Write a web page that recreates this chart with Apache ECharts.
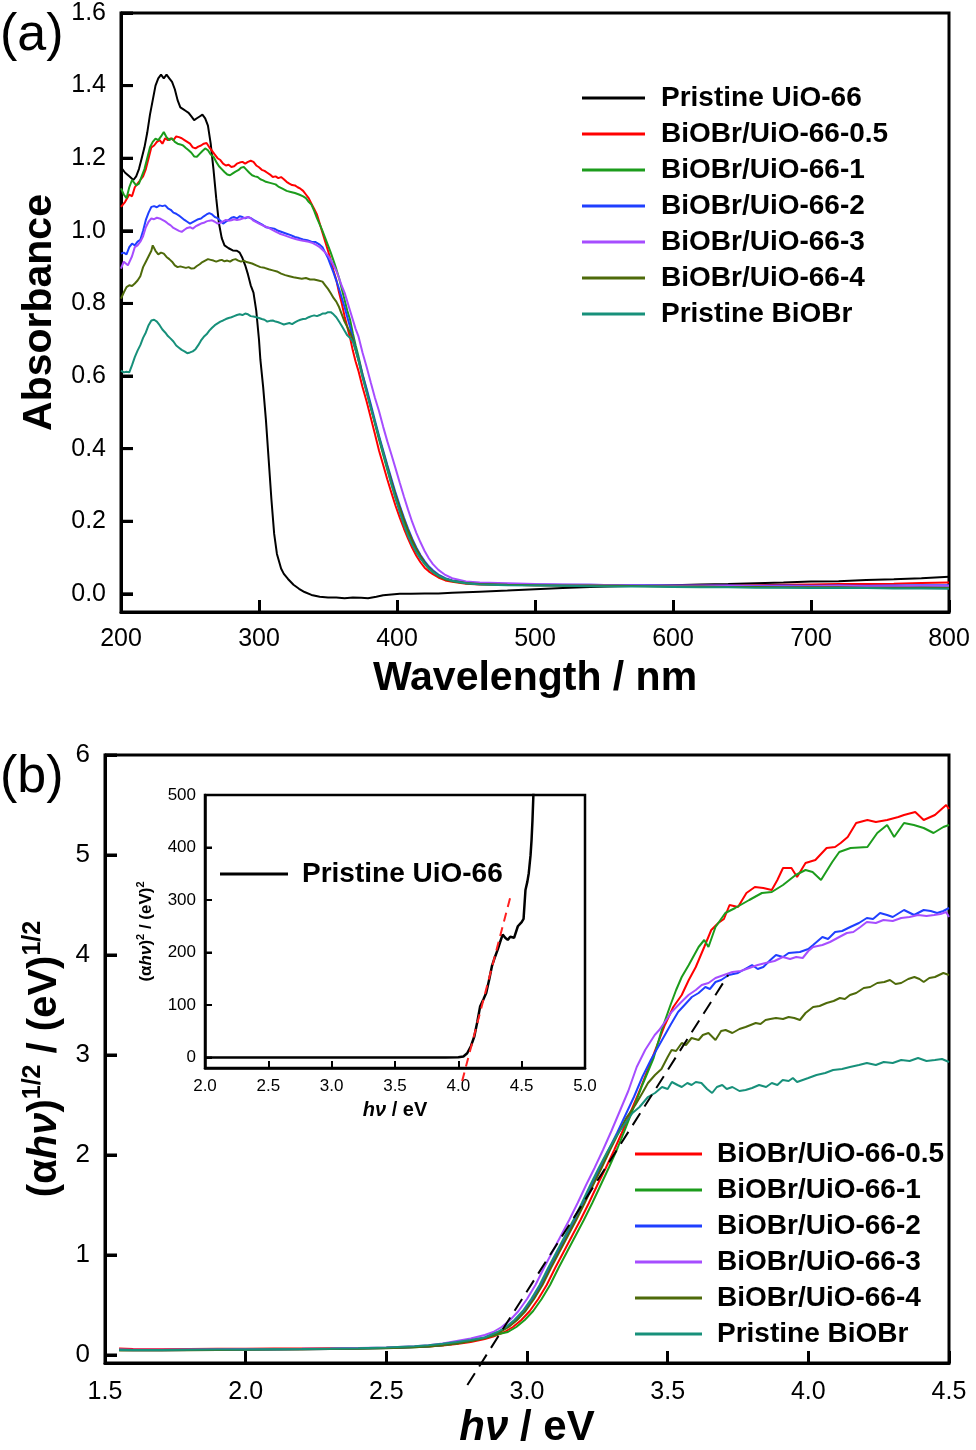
<!DOCTYPE html>
<html><head><meta charset="utf-8">
<script src="https://cdn.jsdelivr.net/npm/echarts@6.0.0/dist/echarts.min.js"></script>
<style>html,body{margin:0;padding:0;background:#fff}#c{width:976px;height:1450px}</style>
</head><body><div id="c"></div>
<script>
const FONT = 'Liberation Sans, Arial, sans-serif';

// ---------- Panel (a): wavelength (nm) vs absorbance ----------
const wlTicks = [200, 300, 400, 500, 600, 700, 800];
const absTicks = [0, 0.2, 0.4, 0.6, 0.8, 1.0, 1.2, 1.4, 1.6];

const uio66A = [[200,1.175],[203,1.16],[206,1.15],[209,1.14],[211,1.15],[213,1.17],[215,1.20],[217,1.23],[219,1.27],[221,1.32],[223,1.36],[225,1.40],[227,1.42],[229,1.43],[231,1.42],[233,1.43],[235,1.42],[237,1.41],[239,1.39],[241,1.36],[243,1.34],[245,1.335],[247,1.33],[249,1.325],[251,1.315],[253,1.305],[255,1.31],[257,1.315],[259,1.32],[261,1.31],[263,1.29],[265,1.24],[267,1.17],[269,1.09],[271,1.02],[273,0.98],[275,0.96],[278,0.952],[281,0.946],[284,0.945],[286,0.94],[288,0.925],[290,0.905],[292,0.88],[294,0.85],[296,0.83],[298,0.78],[300,0.70],[301,0.645],[303,0.57],[305,0.48],[307,0.37],[309,0.26],[311,0.165],[313,0.11],[316,0.07],[318,0.055],[321,0.041],[325,0.025],[329,0.014],[333,0.005],[338,-0.003],[344,-0.008],[350,-0.01],[356,-0.01],[362,-0.012],[368,-0.01],[374,-0.011],[379,-0.012],[385,-0.008],[390,-0.004],[396,-0.002],[402,0.0],[410,0.0],[420,0.001],[430,0.001],[440,0.003],[460,0.006],[480,0.009],[500,0.013],[520,0.016],[540,0.019],[560,0.021],[580,0.022],[600,0.024],[620,0.026],[640,0.027],[660,0.029],[680,0.031],[700,0.034],[720,0.035],[740,0.038],[760,0.040],[780,0.043],[800,0.047]];

const bu05A = [[200,1.066],[203,1.08],[206,1.10],[208,1.095],[210,1.12],[212,1.13],[214,1.14],[216,1.15],[218,1.17],[220,1.20],[222,1.23],[224,1.235],[226,1.245],[228,1.25],[230,1.24],[232,1.255],[234,1.25],[236,1.255],[238,1.25],[240,1.26],[242,1.258],[244,1.255],[246,1.25],[248,1.245],[250,1.24],[252,1.23],[254,1.227],[256,1.232],[258,1.235],[260,1.24],[262,1.242],[264,1.23],[266,1.22],[268,1.21],[270,1.20],[272,1.195],[274,1.185],[276,1.18],[278,1.182],[280,1.176],[282,1.178],[284,1.185],[286,1.188],[288,1.19],[290,1.185],[292,1.19],[294,1.193],[296,1.19],[298,1.18],[300,1.175],[302,1.168],[304,1.165],[306,1.16],[308,1.155],[310,1.148],[312,1.15],[314,1.145],[316,1.148],[318,1.142],[320,1.135],[322,1.13],[324,1.126],[326,1.125],[328,1.12],[330,1.116],[332,1.11],[334,1.10],[336,1.09],[338,1.075],[340,1.06],[342,1.045],[344,1.02],[346,0.995],[348,0.97],[350,0.945],[352,0.92],[354,0.89],[356,0.865],[358,0.83],[360,0.80],[362,0.765],[364,0.735],[366,0.705],[368,0.67],[370,0.64],[372,0.615],[375,0.57],[378,0.53],[381,0.485],[384,0.44],[387,0.394],[390,0.355],[393,0.315],[396,0.278],[399,0.242],[402,0.21],[405,0.18],[408,0.152],[411,0.127],[414,0.105],[417,0.087],[420,0.072],[423,0.062],[426,0.054],[430,0.045],[435,0.037],[440,0.033],[450,0.028],[460,0.026],[480,0.025],[500,0.024],[520,0.024],[540,0.023],[560,0.023],[580,0.022],[600,0.022],[620,0.023],[640,0.023],[660,0.024],[680,0.025],[700,0.026],[720,0.027],[740,0.027],[760,0.028],[780,0.03],[800,0.031]];

const bu1A = [[200,1.117],[202,1.10],[204,1.09],[206,1.12],[208,1.14],[209,1.145],[211,1.125],[213,1.13],[215,1.15],[217,1.17],[219,1.20],[221,1.23],[223,1.245],[225,1.254],[227,1.25],[229,1.26],[231,1.272],[233,1.258],[235,1.25],[237,1.255],[239,1.245],[241,1.24],[243,1.238],[245,1.235],[247,1.228],[249,1.222],[251,1.215],[253,1.205],[255,1.204],[257,1.212],[259,1.22],[261,1.227],[263,1.222],[265,1.21],[267,1.204],[269,1.19],[271,1.178],[273,1.17],[275,1.162],[277,1.155],[279,1.153],[281,1.158],[283,1.163],[285,1.167],[287,1.174],[289,1.176],[291,1.168],[293,1.16],[295,1.153],[297,1.15],[299,1.148],[301,1.142],[303,1.139],[305,1.135],[308,1.132],[310,1.13],[312,1.128],[314,1.122],[317,1.116],[320,1.11],[323,1.107],[326,1.104],[329,1.10],[332,1.095],[334,1.09],[336,1.08],[338,1.072],[340,1.055],[342,1.035],[344,1.018],[346,1.0],[348,0.98],[350,0.96],[352,0.94],[354,0.918],[356,0.895],[358,0.87],[360,0.84],[362,0.81],[364,0.78],[366,0.755],[368,0.718],[370,0.685],[372,0.655],[375,0.605],[378,0.56],[381,0.515],[384,0.47],[387,0.425],[390,0.383],[393,0.342],[396,0.303],[399,0.265],[402,0.232],[405,0.2],[408,0.17],[411,0.143],[414,0.12],[417,0.1],[420,0.083],[423,0.07],[426,0.06],[430,0.049],[435,0.04],[440,0.035],[450,0.029],[460,0.027],[480,0.026],[500,0.025],[520,0.024],[540,0.024],[560,0.023],[580,0.022],[600,0.021],[620,0.021],[640,0.02],[660,0.02],[680,0.02],[700,0.019],[720,0.019],[740,0.019],[760,0.018],[780,0.019],[800,0.018]];

const bu2A = [[200,0.937],[202,0.94],[204,0.935],[206,0.955],[208,0.965],[210,0.96],[212,0.97],[214,0.975],[216,1.0],[218,1.03],[220,1.05],[222,1.066],[224,1.068],[226,1.065],[228,1.07],[230,1.068],[232,1.07],[234,1.062],[236,1.058],[238,1.05],[240,1.047],[242,1.042],[244,1.036],[246,1.03],[248,1.025],[250,1.02],[252,1.024],[254,1.028],[256,1.032],[258,1.034],[260,1.04],[262,1.045],[264,1.049],[266,1.045],[268,1.038],[270,1.035],[272,1.028],[274,1.02],[276,1.025],[278,1.03],[280,1.036],[282,1.038],[284,1.034],[286,1.04],[288,1.038],[290,1.034],[292,1.038],[294,1.035],[296,1.03],[298,1.026],[300,1.022],[302,1.018],[305,1.01],[308,1.008],[311,1.006],[314,1.0],[317,0.996],[320,0.992],[323,0.988],[326,0.983],[329,0.98],[332,0.976],[335,0.974],[338,0.97],[341,0.969],[344,0.962],[346,0.955],[348,0.94],[350,0.925],[352,0.905],[354,0.885],[356,0.863],[358,0.84],[360,0.815],[362,0.79],[364,0.762],[366,0.735],[368,0.705],[370,0.675],[372,0.648],[375,0.605],[378,0.565],[381,0.522],[384,0.478],[387,0.435],[390,0.395],[393,0.355],[396,0.316],[399,0.278],[402,0.243],[405,0.21],[408,0.18],[411,0.152],[414,0.128],[417,0.107],[420,0.09],[423,0.076],[426,0.065],[430,0.053],[435,0.043],[440,0.037],[450,0.031],[460,0.028],[480,0.027],[500,0.026],[520,0.025],[540,0.025],[560,0.024],[580,0.024],[600,0.023],[620,0.023],[640,0.023],[660,0.022],[680,0.023],[700,0.022],[720,0.023],[740,0.022],[760,0.023],[780,0.024],[800,0.024]];

const bu3A = [[200,0.896],[202,0.915],[203,0.92],[205,0.905],[206,0.90],[208,0.93],[210,0.955],[212,0.96],[214,0.97],[216,0.985],[218,1.01],[220,1.025],[222,1.034],[224,1.032],[226,1.036],[228,1.034],[230,1.03],[232,1.026],[234,1.02],[236,1.015],[238,1.008],[240,1.004],[242,1.0],[244,0.997],[246,1.003],[248,1.008],[250,1.01],[252,1.006],[254,1.012],[256,1.016],[258,1.02],[260,1.022],[262,1.026],[264,1.028],[266,1.029],[268,1.025],[270,1.02],[272,1.022],[274,1.026],[276,1.03],[278,1.028],[280,1.029],[282,1.032],[284,1.03],[286,1.031],[288,1.034],[290,1.036],[292,1.038],[294,1.035],[296,1.028],[298,1.024],[300,1.02],[303,1.014],[306,1.01],[309,1.004],[312,0.998],[315,0.992],[318,0.988],[321,0.984],[324,0.98],[327,0.977],[330,0.974],[333,0.972],[336,0.97],[339,0.966],[342,0.96],[344,0.955],[346,0.948],[348,0.94],[350,0.932],[352,0.92],[354,0.905],[356,0.89],[358,0.87],[360,0.848],[362,0.83],[364,0.805],[366,0.78],[368,0.755],[370,0.73],[372,0.71],[375,0.665],[378,0.625],[381,0.582],[384,0.54],[387,0.503],[390,0.46],[393,0.42],[396,0.383],[399,0.345],[402,0.306],[405,0.268],[408,0.232],[411,0.198],[414,0.168],[417,0.142],[420,0.118],[423,0.098],[426,0.082],[430,0.066],[435,0.052],[440,0.043],[450,0.034],[460,0.031],[480,0.029],[500,0.027],[520,0.026],[540,0.025],[560,0.024],[580,0.023],[600,0.022],[620,0.022],[640,0.022],[660,0.021],[680,0.021],[700,0.021],[720,0.022],[740,0.021],[760,0.021],[780,0.022],[800,0.022]];

const bu4A = [[200,0.813],[202,0.83],[204,0.845],[206,0.85],[208,0.848],[210,0.855],[212,0.863],[214,0.875],[216,0.9],[218,0.915],[220,0.93],[222,0.945],[223,0.96],[225,0.945],[227,0.935],[229,0.94],[231,0.937],[233,0.928],[235,0.922],[237,0.915],[239,0.905],[241,0.9],[243,0.902],[245,0.9],[247,0.898],[249,0.9],[251,0.896],[253,0.897],[255,0.903],[257,0.908],[259,0.914],[261,0.918],[263,0.922],[265,0.92],[267,0.918],[269,0.915],[271,0.918],[273,0.92],[275,0.916],[277,0.918],[279,0.915],[281,0.92],[283,0.922],[285,0.918],[287,0.915],[289,0.918],[291,0.914],[293,0.912],[295,0.91],[298,0.905],[301,0.9],[304,0.898],[307,0.894],[310,0.891],[313,0.888],[316,0.882],[319,0.878],[322,0.875],[325,0.872],[328,0.87],[331,0.868],[334,0.87],[337,0.866],[340,0.866],[343,0.863],[346,0.86],[348,0.85],[350,0.84],[352,0.828],[354,0.815],[356,0.805],[358,0.79],[360,0.77],[362,0.75],[364,0.735],[366,0.72],[368,0.7],[370,0.672],[372,0.645],[375,0.6],[378,0.558],[381,0.515],[384,0.472],[387,0.43],[390,0.39],[393,0.35],[396,0.31],[399,0.272],[402,0.238],[405,0.205],[408,0.175],[411,0.148],[414,0.124],[417,0.104],[420,0.087],[423,0.073],[426,0.062],[430,0.051],[435,0.041],[440,0.036],[450,0.03],[460,0.027],[480,0.025],[500,0.024],[520,0.023],[540,0.023],[560,0.022],[580,0.021],[600,0.02],[620,0.02],[640,0.019],[660,0.019],[680,0.018],[700,0.018],[720,0.018],[740,0.017],[760,0.017],[780,0.017],[800,0.016]];

const biobrA = [[200,0.615],[202,0.61],[204,0.612],[206,0.61],[208,0.63],[210,0.652],[212,0.67],[214,0.685],[216,0.705],[218,0.72],[220,0.74],[222,0.753],[224,0.755],[226,0.75],[228,0.74],[230,0.728],[232,0.72],[234,0.71],[236,0.703],[238,0.695],[240,0.684],[242,0.678],[244,0.672],[246,0.668],[248,0.663],[250,0.665],[252,0.668],[254,0.674],[256,0.685],[258,0.698],[260,0.708],[262,0.715],[264,0.725],[266,0.733],[268,0.74],[270,0.745],[272,0.75],[274,0.753],[276,0.757],[278,0.76],[280,0.762],[282,0.765],[284,0.768],[286,0.77],[288,0.768],[290,0.772],[292,0.77],[294,0.765],[296,0.764],[298,0.762],[300,0.76],[302,0.757],[304,0.755],[306,0.75],[308,0.752],[310,0.753],[312,0.75],[314,0.748],[316,0.745],[318,0.742],[320,0.744],[322,0.746],[324,0.743],[326,0.748],[328,0.752],[330,0.755],[332,0.757],[334,0.758],[336,0.762],[338,0.765],[340,0.767],[342,0.765],[344,0.768],[346,0.772],[348,0.772],[350,0.776],[352,0.776],[354,0.77],[356,0.762],[358,0.75],[360,0.738],[362,0.725],[364,0.712],[366,0.705],[368,0.695],[370,0.672],[372,0.645],[375,0.597],[378,0.555],[381,0.513],[384,0.472],[387,0.43],[390,0.388],[393,0.345],[396,0.302],[399,0.262],[402,0.225],[405,0.19],[408,0.16],[411,0.135],[414,0.115],[417,0.097],[420,0.083],[423,0.07],[426,0.06],[430,0.05],[435,0.042],[440,0.036],[450,0.029],[460,0.026],[480,0.024],[500,0.023],[520,0.022],[540,0.021],[560,0.02],[580,0.02],[600,0.019],[620,0.018],[640,0.018],[660,0.017],[680,0.017],[700,0.016],[720,0.016],[740,0.016],[760,0.015],[780,0.015],[800,0.014]];

// ---------- Panel (b): photon energy (eV) vs (αhν)^1/2 ----------
const eTicks = [1.5, 2.0, 2.5, 3.0, 3.5, 4.0, 4.5];
const taucTicks = [0, 1, 2, 3, 4, 5, 6];

const bu05B = [[1.55,0.065],[1.6,0.06],[1.7,0.058],[1.8,0.06],[1.9,0.062],[2.0,0.063],[2.1,0.065],[2.2,0.066],[2.3,0.068],[2.4,0.07],[2.5,0.073],[2.6,0.08],[2.65,0.085],[2.7,0.095],[2.75,0.11],[2.8,0.13],[2.85,0.16],[2.88,0.185],[2.92,0.23],[2.95,0.28],[2.98,0.35],[3.01,0.44],[3.04,0.56],[3.07,0.7],[3.10,0.87],[3.13,1.03],[3.16,1.19],[3.19,1.35],[3.22,1.52],[3.25,1.7],[3.28,1.87],[3.31,2.05],[3.34,2.24],[3.37,2.44],[3.40,2.64],[3.43,2.86],[3.46,3.08],[3.49,3.3],[3.52,3.48],[3.55,3.6],[3.575,3.75],[3.6,3.88],[3.63,4.08],[3.655,4.25],[3.68,4.32],[3.7,4.36],[3.72,4.50],[3.75,4.48],[3.78,4.62],[3.81,4.68],[3.84,4.67],[3.87,4.65],[3.89,4.75],[3.91,4.87],[3.94,4.87],[3.96,4.78],[3.99,4.92],[4.025,4.95],[4.065,5.07],[4.095,5.08],[4.115,5.12],[4.14,5.18],[4.17,5.32],[4.21,5.35],[4.24,5.33],[4.28,5.35],[4.32,5.38],[4.34,5.40],[4.38,5.43],[4.41,5.35],[4.45,5.40],[4.49,5.50],[4.5,5.46]];

const bu1B = [[1.55,0.055],[1.6,0.05],[1.7,0.05],[1.8,0.052],[1.9,0.054],[2.0,0.056],[2.1,0.058],[2.2,0.06],[2.3,0.063],[2.4,0.066],[2.5,0.07],[2.6,0.078],[2.65,0.085],[2.7,0.097],[2.75,0.115],[2.8,0.14],[2.85,0.17],[2.9,0.21],[2.932,0.23],[2.962,0.28],[2.992,0.35],[3.022,0.44],[3.052,0.56],[3.082,0.7],[3.112,0.87],[3.142,1.03],[3.172,1.19],[3.202,1.35],[3.232,1.52],[3.262,1.7],[3.292,1.88],[3.322,2.07],[3.352,2.28],[3.38,2.48],[3.41,2.7],[3.45,2.97],[3.48,3.26],[3.51,3.5],[3.53,3.65],[3.55,3.78],[3.575,3.9],[3.61,4.08],[3.63,4.15],[3.645,4.08],[3.67,4.28],[3.705,4.42],[3.74,4.47],[3.79,4.55],[3.835,4.62],[3.87,4.63],[3.91,4.70],[3.955,4.80],[3.99,4.85],[4.015,4.83],[4.045,4.75],[4.085,4.93],[4.11,5.03],[4.15,5.07],[4.21,5.08],[4.245,5.22],[4.28,5.30],[4.305,5.18],[4.34,5.32],[4.375,5.30],[4.41,5.27],[4.445,5.22],[4.48,5.28],[4.5,5.30]];

const bu2B = [[1.55,0.05],[1.6,0.048],[1.7,0.048],[1.8,0.05],[1.9,0.052],[2.0,0.054],[2.1,0.056],[2.2,0.058],[2.3,0.061],[2.4,0.065],[2.5,0.07],[2.6,0.08],[2.65,0.088],[2.7,0.1],[2.75,0.12],[2.8,0.145],[2.85,0.175],[2.9,0.23],[2.93,0.28],[2.96,0.35],[2.99,0.44],[3.02,0.56],[3.05,0.7],[3.08,0.87],[3.11,1.03],[3.14,1.19],[3.17,1.35],[3.20,1.52],[3.23,1.7],[3.26,1.87],[3.29,2.05],[3.32,2.22],[3.35,2.40],[3.38,2.58],[3.41,2.78],[3.44,2.95],[3.47,3.1],[3.49,3.2],[3.51,3.3],[3.537,3.43],[3.56,3.5],[3.586,3.58],[3.61,3.62],[3.634,3.68],[3.65,3.66],[3.67,3.73],[3.69,3.75],[3.717,3.80],[3.75,3.82],[3.775,3.86],[3.80,3.90],[3.82,3.86],[3.84,3.88],[3.865,3.95],[3.885,4.00],[3.91,3.98],[3.93,4.02],[3.97,4.03],[4.0,4.06],[4.017,4.10],[4.05,4.18],[4.07,4.16],[4.095,4.23],[4.12,4.24],[4.149,4.28],[4.18,4.32],[4.208,4.37],[4.23,4.36],[4.255,4.42],[4.28,4.40],[4.30,4.38],[4.34,4.45],[4.376,4.40],[4.41,4.45],[4.435,4.44],[4.458,4.42],[4.48,4.44],[4.5,4.47]];

const bu3B = [[1.55,0.055],[1.6,0.052],[1.7,0.052],[1.8,0.054],[1.9,0.056],[2.0,0.058],[2.1,0.06],[2.2,0.062],[2.3,0.065],[2.4,0.07],[2.5,0.076],[2.6,0.088],[2.65,0.098],[2.7,0.115],[2.75,0.14],[2.8,0.165],[2.85,0.2],[2.88,0.23],[2.91,0.28],[2.94,0.35],[2.97,0.44],[3.0,0.56],[3.03,0.7],[3.06,0.87],[3.09,1.03],[3.12,1.19],[3.15,1.35],[3.18,1.52],[3.21,1.7],[3.24,1.87],[3.27,2.05],[3.30,2.24],[3.33,2.44],[3.36,2.64],[3.39,2.88],[3.42,3.05],[3.454,3.2],[3.47,3.25],[3.49,3.33],[3.514,3.43],[3.545,3.52],[3.574,3.60],[3.6,3.65],[3.621,3.70],[3.645,3.72],[3.67,3.77],[3.7,3.8],[3.73,3.83],[3.76,3.84],[3.79,3.87],[3.82,3.9],[3.848,3.92],[3.88,3.94],[3.909,3.98],[3.935,3.96],[3.957,3.98],[3.98,3.97],[4.0,4.04],[4.017,4.08],[4.05,4.1],[4.077,4.13],[4.11,4.18],[4.137,4.22],[4.16,4.23],[4.185,4.28],[4.208,4.33],[4.24,4.32],[4.267,4.35],[4.3,4.34],[4.33,4.37],[4.36,4.38],[4.39,4.40],[4.42,4.39],[4.447,4.40],[4.47,4.41],[4.49,4.43],[4.5,4.38]];

const bu4B = [[1.55,0.045],[1.6,0.045],[1.7,0.046],[1.8,0.048],[1.9,0.05],[2.0,0.052],[2.1,0.054],[2.2,0.056],[2.3,0.059],[2.4,0.063],[2.5,0.068],[2.6,0.077],[2.65,0.085],[2.7,0.097],[2.75,0.115],[2.8,0.14],[2.85,0.17],[2.905,0.23],[2.935,0.28],[2.965,0.35],[2.995,0.44],[3.025,0.56],[3.055,0.7],[3.085,0.87],[3.115,1.03],[3.145,1.19],[3.175,1.35],[3.205,1.52],[3.235,1.7],[3.265,1.87],[3.295,2.05],[3.325,2.22],[3.355,2.38],[3.385,2.5],[3.41,2.62],[3.43,2.72],[3.455,2.8],[3.478,2.86],[3.5,2.98],[3.514,3.05],[3.53,3.04],[3.55,3.12],[3.565,3.1],[3.585,3.17],[3.61,3.15],[3.625,3.2],[3.645,3.22],[3.67,3.15],[3.69,3.24],[3.706,3.25],[3.73,3.22],[3.755,3.26],[3.777,3.28],[3.795,3.3],[3.813,3.32],[3.83,3.31],[3.848,3.35],[3.865,3.36],[3.885,3.37],[3.91,3.36],[3.93,3.38],[3.95,3.37],[3.97,3.35],[3.99,3.42],[4.017,3.48],[4.04,3.49],[4.065,3.52],[4.09,3.54],[4.112,3.57],[4.13,3.56],[4.148,3.6],[4.17,3.62],[4.197,3.67],[4.22,3.68],[4.245,3.72],[4.27,3.73],[4.29,3.75],[4.31,3.71],[4.33,3.72],[4.355,3.76],[4.377,3.78],[4.395,3.76],[4.41,3.73],[4.43,3.77],[4.45,3.78],[4.48,3.82],[4.5,3.80]];

const biobrB = [[1.55,0.05],[1.6,0.05],[1.7,0.05],[1.8,0.052],[1.9,0.054],[2.0,0.056],[2.1,0.058],[2.2,0.06],[2.3,0.063],[2.4,0.068],[2.5,0.075],[2.6,0.088],[2.65,0.098],[2.7,0.112],[2.75,0.13],[2.8,0.15],[2.85,0.175],[2.895,0.23],[2.925,0.28],[2.955,0.35],[2.985,0.44],[3.015,0.56],[3.045,0.7],[3.075,0.87],[3.105,1.03],[3.135,1.19],[3.165,1.35],[3.195,1.52],[3.225,1.7],[3.255,1.87],[3.285,2.03],[3.315,2.18],[3.35,2.32],[3.375,2.42],[3.4,2.48],[3.43,2.58],[3.455,2.62],[3.48,2.68],[3.5,2.66],[3.515,2.73],[3.535,2.7],[3.55,2.68],[3.57,2.72],[3.585,2.70],[3.6,2.73],[3.62,2.72],[3.64,2.66],[3.658,2.62],[3.675,2.68],[3.694,2.70],[3.71,2.66],[3.73,2.68],[3.755,2.64],[3.777,2.65],[3.8,2.67],[3.825,2.70],[3.85,2.68],[3.87,2.72],[3.89,2.70],[3.909,2.75],[3.93,2.74],[3.945,2.77],[3.96,2.73],[3.98,2.75],[4.0,2.77],[4.029,2.80],[4.06,2.82],[4.088,2.85],[4.12,2.86],[4.148,2.88],[4.18,2.90],[4.208,2.92],[4.24,2.9],[4.268,2.93],[4.3,2.92],[4.33,2.95],[4.36,2.94],[4.39,2.97],[4.42,2.94],[4.45,2.95],[4.475,2.96],[4.5,2.93]];

const fitB = [[2.788,-0.30],[3.715,3.80]];

// ---------- Inset: (αhν)^2 of pristine UiO-66 ----------
const insetETicks = [2.0, 2.5, 3.0, 3.5, 4.0, 4.5, 5.0];
const insetYTicks = [0, 100, 200, 300, 400, 500];
const uio66Inset = [[2.0,0],[2.5,0],[3.0,0],[3.5,0],[3.9,0],[4.0,0.5],[4.04,2],[4.07,8],[4.1,22],[4.126,40],[4.15,68],[4.172,97],[4.2,112],[4.22,123],[4.245,150],[4.265,174],[4.29,192],[4.31,205],[4.33,220],[4.35,234],[4.37,228],[4.39,224],[4.41,230],[4.44,228],[4.47,250],[4.5,258],[4.515,264],[4.53,319],[4.545,335],[4.556,351],[4.57,385],[4.578,414],[4.585,450],[4.593,503],[4.6,560]];
const fitInset = [[4.03,-45],[4.41,305]];

const namesA = ['Pristine UiO-66','BiOBr/UiO-66-0.5','BiOBr/UiO-66-1','BiOBr/UiO-66-2','BiOBr/UiO-66-3','BiOBr/UiO-66-4','Pristine BiOBr'];
const namesB = namesA.slice(1);
const colorsA = ['#000000','#ff0000','#1c9c1c','#1f3fff','#a64dff','#4e6a0a','#17907a'];

const dataA = [uio66A, bu05A, bu1A, bu2A, bu3A, bu4A, biobrA];
const dataB = [bu05B, bu1B, bu2B, bu3B, bu4B, biobrB];

const chart = echarts.init(document.getElementById('c'), null, {renderer:'canvas'});

const txt = (size, extra) => Object.assign({fontFamily: FONT, fontSize: size, color: '#000'}, extra || {});
const axLine = w => ({show: true, onZero: false, lineStyle: {color: '#000', width: w}});

const series = [];
dataA.forEach((d, i) => series.push({
  name: namesA[i], type: 'line', xAxisIndex: 0, yAxisIndex: 0, data: d,
  symbol: 'none', lineStyle: {color: colorsA[i], width: 2}, itemStyle: {color: colorsA[i]}, z: 3 + i
}));
dataB.forEach((d, i) => series.push({
  name: namesB[i], type: 'line', xAxisIndex: 1, yAxisIndex: 1, data: d,
  symbol: 'none', lineStyle: {color: colorsA[i + 1], width: 2}, itemStyle: {color: colorsA[i + 1]}, z: 3 + i
}));
series.push({name: 'fitB', type: 'line', xAxisIndex: 1, yAxisIndex: 1, data: fitB, symbol: 'none', clip: false,
  lineStyle: {color: '#000', width: 2, type: [14, 8]}, z: 20});
series.push({name: 'Pristine UiO-66', type: 'line', xAxisIndex: 2, yAxisIndex: 2, data: uio66Inset, symbol: 'none',
  lineStyle: {color: '#000', width: 2.5}, itemStyle: {color: '#000'}, z: 30});
series.push({name: 'fitInset', type: 'line', xAxisIndex: 2, yAxisIndex: 2, data: fitInset, symbol: 'none', clip: false,
  lineStyle: {color: '#ff2020', width: 2, type: [9, 6]}, z: 31});

const legendBase = {orient: 'vertical', icon: 'rect', itemHeight: 3, itemGap: 8};

const baseGraphic = [
  {type: 'text', left: 0, top: 10, style: {text: '(a)', font: '52px ' + FONT, fill: '#000'}},
  {type: 'text', left: 0, top: 752, style: {text: '(b)', font: '52px ' + FONT, fill: '#000'}}
];

const option = {
  animation: false,
  backgroundColor: '#fff',
  grid: [
    {left: 121, top: 13, width: 828, height: 599, show: true, borderColor: '#000', borderWidth: 3},
    {left: 105, top: 755, width: 844, height: 608, show: true, borderColor: '#000', borderWidth: 3},
    {left: 205, top: 795, width: 380, height: 273, show: true, borderColor: '#000', borderWidth: 2.5, backgroundColor: '#fff', z: 10}
  ],
  xAxis: [
    {gridIndex: 0, type: 'value', min: 200, max: 800, interval: 100,
      axisLine: axLine(3), splitLine: {show: false},
      axisTick: {show: true, inside: true, length: 12, lineStyle: {width: 3, color: '#000'}},
      axisLabel: Object.assign(txt(25), {margin: 15, customValues: wlTicks}),
      name: 'Wavelength / nm', nameLocation: 'middle', nameGap: 46,
      nameTextStyle: txt(41, {fontWeight: 'bold'})},
    {gridIndex: 1, type: 'value', min: 1.5, max: 4.5, interval: 0.5,
      axisLine: axLine(3), splitLine: {show: false},
      axisTick: {show: true, inside: true, length: 12, lineStyle: {width: 3, color: '#000'}},
      axisLabel: Object.assign(txt(25), {margin: 17, customValues: eTicks, formatter: v => v.toFixed(1)}),
      name: '{i|h\u03bd}{n| / eV}', nameLocation: 'middle', nameGap: 44,
      nameTextStyle: {rich: {
        i: txt(42, {fontWeight: 'bold', fontStyle: 'italic'}),
        n: txt(42, {fontWeight: 'bold'})}}},
    {gridIndex: 2, type: 'value', min: 2, max: 5, interval: 0.5, z: 12,
      axisLine: axLine(2.5), splitLine: {show: false},
      axisTick: {show: true, inside: true, length: 7, lineStyle: {width: 2, color: '#000'}},
      axisLabel: Object.assign(txt(17), {margin: 10, customValues: insetETicks, formatter: v => v.toFixed(1)}),
      name: '{i|h\u03bd}{n| / eV}', nameLocation: 'middle', nameGap: 32,
      nameTextStyle: {rich: {
        i: txt(20, {fontWeight: 'bold', fontStyle: 'italic'}),
        n: txt(20, {fontWeight: 'bold'})}}}
  ],
  yAxis: [
    {gridIndex: 0, type: 'value', min: -0.05, max: 1.6, position: 'left',
      axisLine: axLine(3), splitLine: {show: false},
      axisTick: {show: true, inside: true, length: 12, customValues: absTicks, lineStyle: {width: 3, color: '#000'}},
      axisLabel: Object.assign(txt(25), {margin: 15, customValues: absTicks, formatter: v => v.toFixed(1)}),
      name: 'Absorbance', nameLocation: 'middle', nameGap: 56,
      nameTextStyle: txt(41, {fontWeight: 'bold'})},
    {gridIndex: 1, type: 'value', min: -0.08, max: 6, position: 'left',
      axisLine: axLine(3), splitLine: {show: false},
      axisTick: {show: true, inside: true, length: 12, customValues: taucTicks, lineStyle: {width: 3, color: '#000'}},
      axisLabel: Object.assign(txt(26), {margin: 15, customValues: taucTicks}),
      name: '{n|(\u03b1}{i|h\u03bd}{n|)}{s|1/2}{n| / (eV)}{s|1/2}', nameLocation: 'middle', nameGap: 36,
      nameTextStyle: {rich: {
        n: txt(40, {fontWeight: 'bold', lineHeight: 48}),
        i: txt(40, {fontWeight: 'bold', fontStyle: 'italic', lineHeight: 48}),
        s: txt(25, {fontWeight: 'bold', lineHeight: 48, verticalAlign: 'top'})}}},
    {gridIndex: 2, type: 'value', min: -20, max: 500, position: 'left', z: 12,
      axisLine: axLine(2.5), splitLine: {show: false},
      axisTick: {show: true, inside: true, length: 7, customValues: insetYTicks, lineStyle: {width: 2, color: '#000'}},
      axisLabel: Object.assign(txt(17), {margin: 9, customValues: insetYTicks}),
      name: '{n|(\u03b1}{i|h\u03bd}{n|)}{s|2}{n| / (eV)}{s|2}', nameLocation: 'middle', nameGap: 48,
      nameTextStyle: {rich: {
        n: txt(17, {fontWeight: 'bold', lineHeight: 22}),
        i: txt(17, {fontWeight: 'bold', fontStyle: 'italic', lineHeight: 22}),
        s: txt(11, {fontWeight: 'bold', lineHeight: 22, verticalAlign: 'top'})}}}
  ],
  legend: [
    Object.assign({}, legendBase, {data: namesA, left: 577, top: 79, itemWidth: 63,
      textStyle: txt(28, {fontWeight: 'bold', lineHeight: 28, padding: [0, 0, 0, 11]})}),
    Object.assign({}, legendBase, {data: namesB, left: 630, top: 1135, itemWidth: 67,
      textStyle: txt(28, {fontWeight: 'bold', lineHeight: 28, padding: [0, 0, 0, 10]})}),
    Object.assign({}, legendBase, {data: ['Pristine UiO-66'], left: 215, top: 855, itemWidth: 68, z: 40,
      textStyle: txt(28, {fontWeight: 'bold', lineHeight: 28, padding: [0, 0, 0, 9]})})
  ],
  graphic: baseGraphic,
  series: series
};
chart.setOption(option);

// Inward y-axis tick marks, positioned through each grid's own scales.
const tickSpecs = [
  {grid: 0, xAt: 200, ticks: absTicks, len: 12, w: 3},
  {grid: 1, xAt: 1.5, ticks: taucTicks, len: 12, w: 3},
  {grid: 2, xAt: 2.0, ticks: insetYTicks, len: 7, w: 2}
];
const tickEls = [];
tickSpecs.forEach(s => s.ticks.forEach(v => {
  const p = chart.convertToPixel({gridIndex: s.grid}, [s.xAt, v]);
  if (!p || isNaN(p[0]) || isNaN(p[1])) return;
  tickEls.push({type: 'line', silent: true, z: 100,
    shape: {x1: p[0], y1: p[1], x2: p[0] + s.len, y2: p[1]},
    style: {stroke: '#000', lineWidth: s.w}});
}));
chart.setOption({graphic: baseGraphic.concat(tickEls)});
</script>
</body></html>
